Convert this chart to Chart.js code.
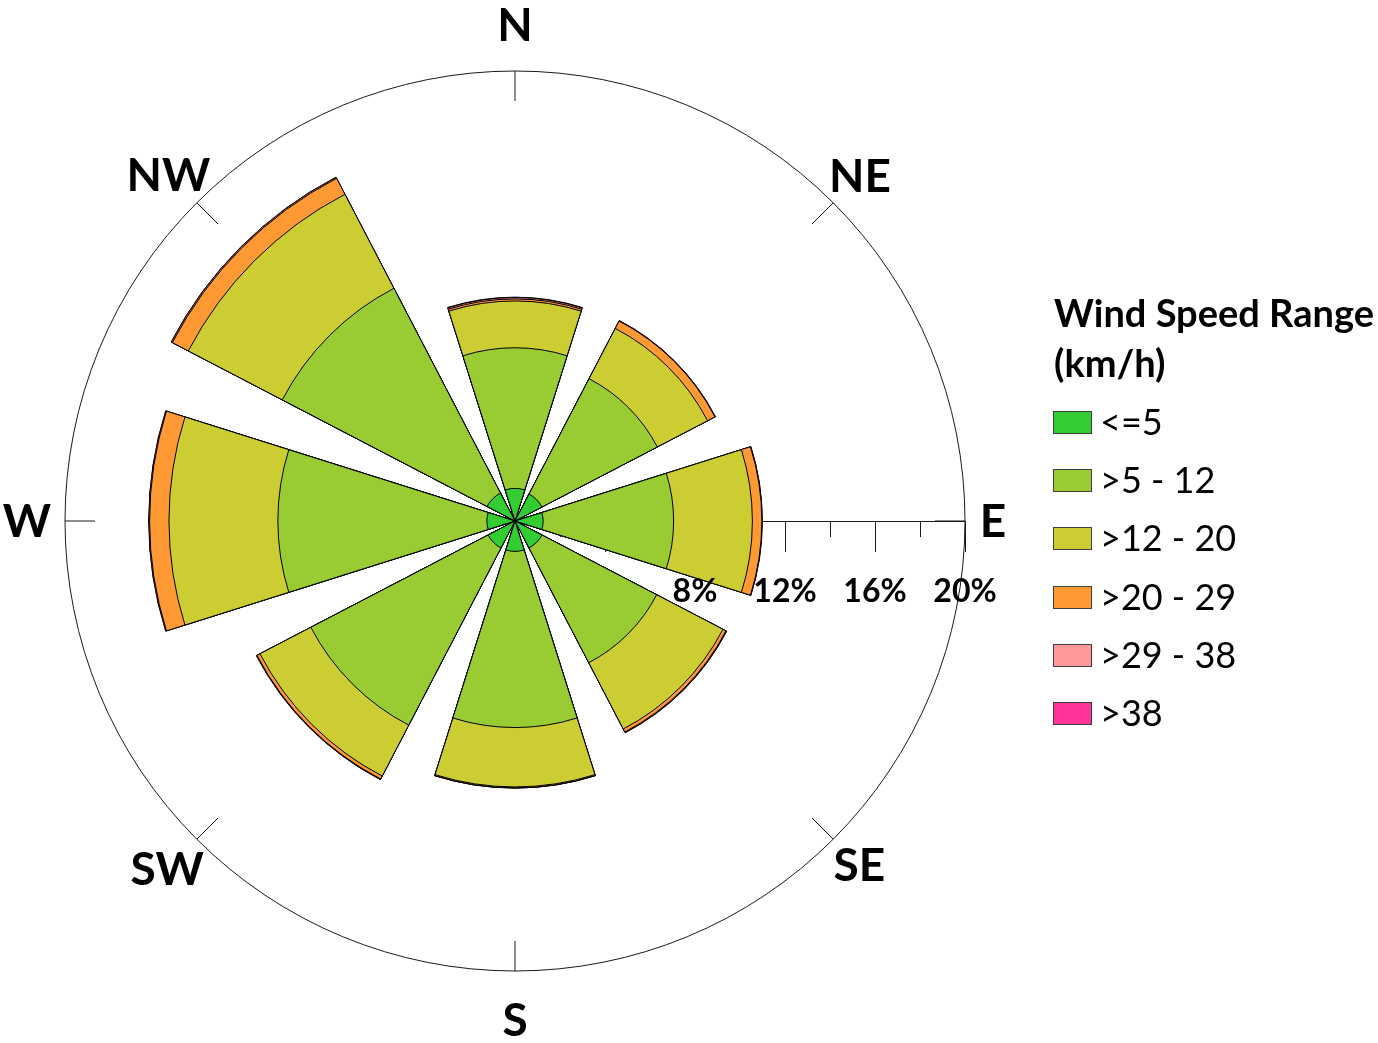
<!DOCTYPE html>
<html><head><meta charset="utf-8">
<script src="https://cdn.jsdelivr.net/npm/chart.js@4/dist/chart.umd.min.js"></script>
<style>html,body{margin:0;padding:0;background:#fff;}canvas{display:block;}</style>
</head><body>
<canvas id="c" width="1378" height="1043"></canvas>
<script>
// ---- data ----
const directions = ['N', 'NE', 'E', 'SE', 'S', 'SW', 'W', 'NW'];
const speedRanges = ['<=5', '>5 - 12', '>12 - 20', '>20 - 29', '>29 - 38', '>38'];
const speedLe5    = [1.45, 1.35, 1.25, 1.35, 1.35, 1.35, 1.25, 1.40];
const speed5to12  = [6.25, 5.78, 5.80, 5.75, 7.83, 8.88, 9.29, 10.26];
const speed12to20 = [2.08, 2.52, 3.50, 3.32, 2.64, 2.55, 4.84, 4.71];
const speed20to29 = [0.09, 0.37, 0.42, 0.15, 0.04, 0.15, 0.86, 0.80];
const speed29to38 = [0.06, 0.02, 0.02, 0.03, 0.01, 0.02, 0.03, 0.05];
const speedOver38 = [0.02, 0.00, 0.00, 0.01, 0.00, 0.01, 0.01, 0.01];
const rangeColors = ['#33CC33', '#99CC33', '#CCCC33', '#FF9933', '#FF9999', '#FF3399'];
const axisMax = 20;
const majorTicks = [4, 8, 12, 16, 20];
const minorTicks = [2, 6, 10, 14, 18];
const tickLabelValues = [8, 12, 16, 20];
const tickLabels = ['8%', '12%', '16%', '20%'];
const legendTitle = ['Wind Speed Range', '(km/h)'];

// ---- build stacked (cumulative) polar datasets ----
const WEDGE = 35, GAP = 10;
const series = [speedLe5, speed5to12, speed12to20, speed20to29, speed29to38, speedOver38];
const labels16 = [];
directions.forEach(d => { labels16.push(d); labels16.push(''); });
const cumulative = [];
let running = directions.map(() => 0);
series.forEach(arr => {
  running = running.map((v, i) => v + arr[i]);
  cumulative.push(running.slice());
});
const datasets = cumulative.map((cum, k) => {
  const data = [];
  cum.forEach(v => { data.push(v); data.push(0); });
  return {
    label: speedRanges[k],
    data,
    backgroundColor: ctx => ctx.dataIndex % 2 ? 'rgba(0,0,0,0)' : rangeColors[k],
    borderColor: '#000',
    borderWidth: ctx => ctx.dataIndex % 2 ? 0 : 1,
    angle: ctx => ctx.dataIndex % 2 ? GAP : WEDGE
  };
});

const FONT = 'Lato, "Open Sans", sans-serif';

const windRosePlugin = {
  id: 'windRose',
  beforeDatasetsDraw(chart) {
    const s = chart.scales.r, ctx = chart.ctx;
    const cx = s.xCenter, cy = s.yCenter;
    const R = s.getDistanceFromCenterForValue(axisMax);
    ctx.save();
    ctx.strokeStyle = '#1a1a1a';
    ctx.lineWidth = 1;
    ctx.beginPath(); ctx.arc(cx, cy, R, 0, Math.PI * 2); ctx.stroke();
    for (let i = 0; i < directions.length; i++) {
      const a = i * 2 * Math.PI / directions.length;
      ctx.beginPath();
      ctx.moveTo(cx + R * Math.sin(a), cy - R * Math.cos(a));
      ctx.lineTo(cx + (R - 30) * Math.sin(a), cy - (R - 30) * Math.cos(a));
      ctx.stroke();
    }
    ctx.beginPath(); ctx.moveTo(cx, cy + 0.5); ctx.lineTo(cx + R, cy + 0.5); ctx.stroke();
    majorTicks.forEach(v => {
      const x = Math.round(cx + s.getDistanceFromCenterForValue(v)) + 0.5;
      ctx.beginPath(); ctx.moveTo(x, cy); ctx.lineTo(x, cy + 31); ctx.stroke();
    });
    minorTicks.forEach(v => {
      const x = Math.round(cx + s.getDistanceFromCenterForValue(v)) + 0.5;
      ctx.beginPath(); ctx.moveTo(x, cy); ctx.lineTo(x, cy + 16); ctx.stroke();
    });
    ctx.restore();
  },
  afterDatasetsDraw(chart) {
    const s = chart.scales.r, ctx = chart.ctx;
    const cx = s.xCenter, cy = s.yCenter;
    ctx.save();
    ctx.fillStyle = '#000';
    // tick labels
    ctx.font = 'bold 32px ' + FONT;
    ctx.textAlign = 'center';
    ctx.textBaseline = 'alphabetic';
    tickLabelValues.forEach((v, i) => {
      ctx.fillText(tickLabels[i], cx + s.getDistanceFromCenterForValue(v), cy + 81);
    });
    // compass labels
    const labelR = [496, 488, 478, 487, 499, 492, 488, 490];
    ctx.font = 'bold 46px ' + FONT;
    directions.forEach((d, i) => {
      const a = i * 2 * Math.PI / directions.length;
      const x = cx + labelR[i] * Math.sin(a);
      const y = cy - labelR[i] * Math.cos(a);
      ctx.fillText(d, x, y + 16);
    });
    // legend
    ctx.textAlign = 'left';
    ctx.font = 'bold 38px ' + FONT;
    ctx.fillText(legendTitle[0], 1054, 327);
    ctx.fillText(legendTitle[1], 1054, 377);
    ctx.font = '36px ' + FONT;
    speedRanges.forEach((lab, i) => {
      const top = 411 + i * 58.2;
      ctx.fillStyle = rangeColors[i];
      ctx.fillRect(1053.5, Math.round(top) + 0.5, 38, 22);
      ctx.strokeStyle = '#404040';
      ctx.lineWidth = 1;
      ctx.strokeRect(1053.5, Math.round(top) + 0.5, 38, 22);
      ctx.fillStyle = '#000';
      ctx.fillText(lab, 1100, top + 24);
    });
    ctx.restore();
  }
};

new Chart(document.getElementById('c'), {
  type: 'polarArea',
  data: { labels: labels16, datasets },
  options: {
    responsive: false,
    animation: false,
    layout: { padding: { left: 65, right: 413, top: 71, bottom: 72 } },
    plugins: { legend: { display: false }, tooltip: { enabled: false } },
    scales: {
      r: {
        min: 0, max: axisMax,
        startAngle: -WEDGE / 2,
        ticks: { display: false },
        grid: { display: false },
        angleLines: { display: false },
        pointLabels: { display: false }
      }
    }
  },
  plugins: [windRosePlugin]
});
</script>
</body></html>
